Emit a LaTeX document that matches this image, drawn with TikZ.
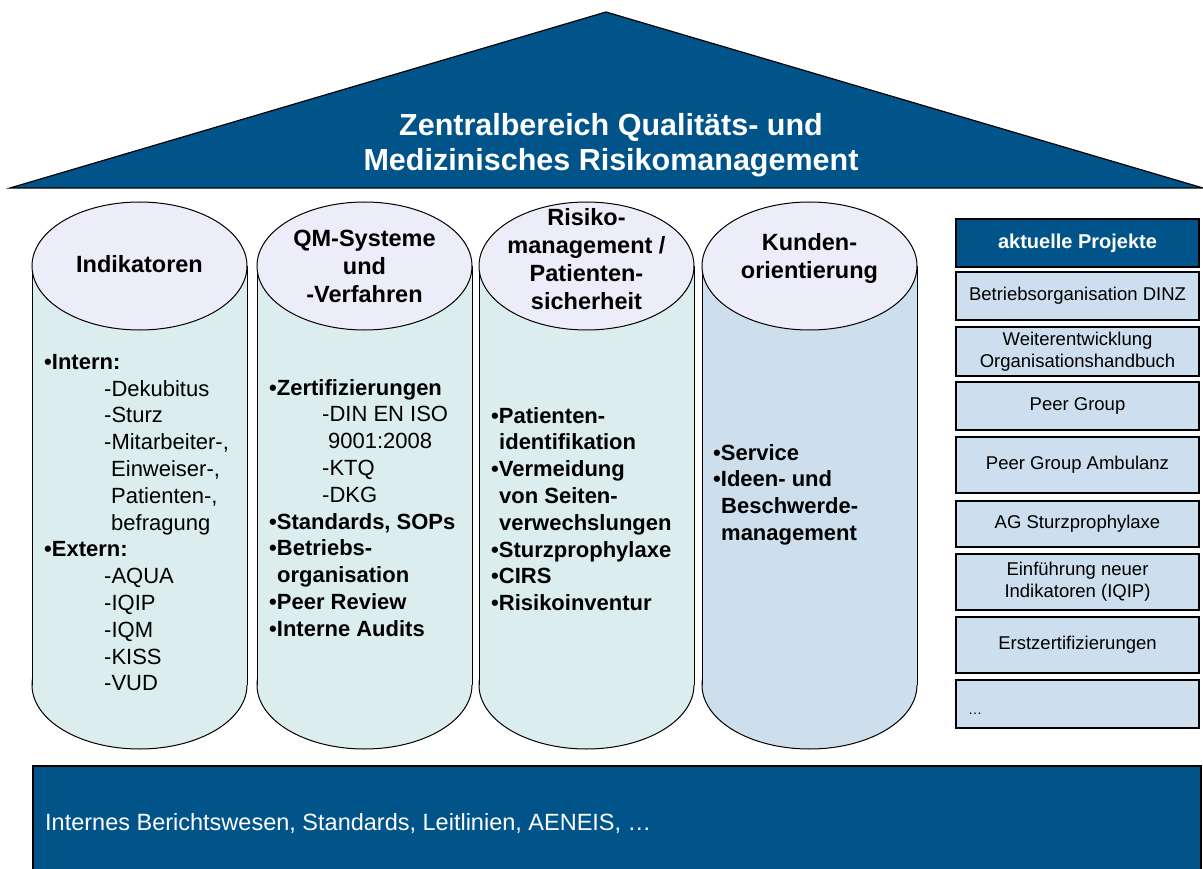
\documentclass[tikz,border=0pt]{standalone}
\usepackage{fontspec}
\setmainfont{Liberation Sans}
\definecolor{navy}{RGB}{0,84,138}
\definecolor{pillarA}{RGB}{220,237,237}
\definecolor{pillarB}{RGB}{205,222,236}
\definecolor{captop}{RGB}{237,237,250}
\definecolor{boxfill}{RGB}{205,222,238}
\newcommand\drawpillar[2]{%
  \fill[#2,draw=black,line width=1pt] (#1,685) ellipse[x radius=107.5,y radius=64];
  \fill[#2] (#1-107.5,266) rectangle (#1+107.5,685);
  \draw[line width=1pt] (#1-107.5,266) -- (#1-107.5,685) (#1+107.5,266) -- (#1+107.5,685);
  \fill[captop,draw=black,line width=1pt] (#1,266) ellipse[x radius=107.5,y radius=64];
}
\tikzset{
  headtxt/.style={font=\fontsize{23.5}{28}\selectfont\bfseries,align=center,inner sep=0pt},
  bodytxt/.style={font=\fontsize{22}{26.8}\selectfont,align=left,anchor=north west,inner sep=0pt},
  projbox/.style={draw=black,line width=1.2pt,fill=boxfill,minimum width=243,align=center,
    font=\fontsize{18.5}{22}\selectfont,inner sep=0pt},
}
\begin{document}
\begin{tikzpicture}[x=1pt,y=-1pt]
\useasboundingbox (0,0) rectangle (1203,869);
% roof
\fill[navy,draw=black,line width=1.2pt] (10,188) -- (606,12) -- (1203,188) -- cycle;
\node[font=\fontsize{30.5}{35}\selectfont\bfseries,text=white,align=center] (title) at (611,145)
  {Zentralbereich Qualitäts- und\\Medizinisches Risikomanagement};
% pillars
\drawpillar{139.5}{pillarA}
\drawpillar{364.5}{pillarA}
\drawpillar{586.5}{pillarA}
\drawpillar{809.5}{pillarB}
\node[headtxt] (h1) at (139.5,264) {Indikatoren};
\node[headtxt] (h2) at (364.5,266) {QM-Systeme\\und\\-Verfahren};
\node[headtxt] (h3) at (586.5,259) {Risiko-\\management /\\Patienten-\\sicherheit};
\node[headtxt] (h4) at (809.5,258) {Kunden-\\orientierung};
\node[bodytxt] (b1) at (44,354) {%
  \textbf{•Intern:}\\
  \hspace*{60pt}-Dekubitus\\
  \hspace*{60pt}-Sturz\\
  \hspace*{60pt}-Mitarbeiter-,\\
  \hspace*{67pt}Einweiser-,\\
  \hspace*{67pt}Patienten-,\\
  \hspace*{67pt}befragung\\
  \textbf{•Extern:}\\
  \hspace*{60pt}-AQUA\\
  \hspace*{60pt}-IQIP\\
  \hspace*{60pt}-IQM\\
  \hspace*{60pt}-KISS\\
  \hspace*{60pt}-VUD};
\node[bodytxt] (b2) at (269,379) {%
  \textbf{•Zertifizierungen}\\
  \hspace*{53pt}-DIN EN ISO\\
  \hspace*{59pt}9001:2008\\
  \hspace*{53pt}-KTQ\\
  \hspace*{53pt}-DKG\\
  \textbf{•Standards, SOPs}\\
  \textbf{•Betriebs-}\\
  \textbf{\hspace*{8pt}organisation}\\
  \textbf{•Peer Review}\\
  \textbf{•Interne Audits}};
\node[bodytxt,font=\fontsize{22}{26.8}\selectfont\bfseries] (b3) at (491,407) {%
  •Patienten-\\
  \hspace*{8pt}identifikation\\
  •Vermeidung\\
  \hspace*{8pt}von Seiten-\\
  \hspace*{8pt}verwechslungen\\
  •Sturzprophylaxe\\
  •CIRS\\
  •Risikoinventur};
\node[bodytxt,font=\fontsize{22}{26.8}\selectfont\bfseries] (b4) at (713,444) {%
  •Service\\
  •Ideen- und\\
  \hspace*{8pt}Beschwerde-\\
  \hspace*{8pt}management};
% projects
\node[projbox,fill=navy,text=white,font=\fontsize{20}{22}\selectfont\bfseries,minimum height=48] (p0) at (1077.5,243) {aktuelle Projekte};
\node[projbox,minimum height=48] (p1) at (1077.5,296) {Betriebsorganisation DINZ};
\node[projbox,minimum height=49] (p2) at (1077.5,351.5) {Weiterentwicklung\\Organisationshandbuch};
\node[projbox,minimum height=48] (p3) at (1077.5,406) {Peer Group};
\node[projbox,minimum height=56] (p4) at (1077.5,465) {Peer Group Ambulanz};
\node[projbox,minimum height=46] (p5) at (1077.5,524) {AG Sturzprophylaxe};
\node[projbox,minimum height=56] (p6) at (1077.5,582) {Einführung neuer\\Indikatoren (IQIP)};
\node[projbox,minimum height=56] (p7) at (1077.5,645) {Erstzertifizierungen};
\node[projbox,minimum height=48] (p8) at (1077.5,704) {};
\node[font=\fontsize{14}{16}\selectfont,anchor=west,inner sep=0pt] (p8t) at (968,714) {…};
% foundation
\fill[navy,draw=black,line width=1.2pt] (33,766) rectangle (1201,872);
\node[font=\fontsize{23.5}{26}\selectfont,text=white,anchor=west,inner sep=0pt] (base) at (45,823)
  {Internes Berichtswesen, Standards, Leitlinien, AENEIS, …};
\end{tikzpicture}
\end{document}
